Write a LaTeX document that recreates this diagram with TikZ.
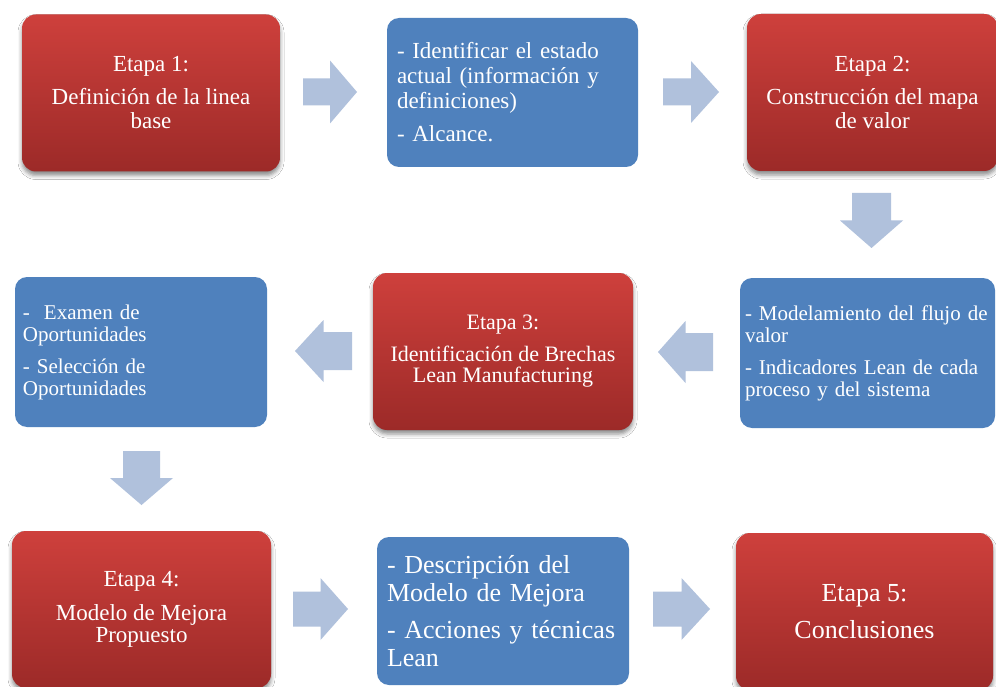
\documentclass[tikz,border=0pt]{standalone}
\usepackage{fontspec}
\setmainfont{Liberation Serif}
\newfontfamily\boxfont{Liberation Serif}
\usetikzlibrary{shadows.blur,calc}
\definecolor{redtop}{RGB}{206,64,60}
\definecolor{redbot}{RGB}{156,42,40}
\definecolor{boxblue}{RGB}{79,129,189}
\definecolor{arrowblue}{RGB}{176,193,220}
\tikzset{
  redbox/.style={rectangle, rounded corners=14pt, top color=redtop, bottom color=redbot,
    draw=none, text=white, align=center, inner sep=4pt,
    blur shadow={shadow xshift=0pt, shadow yshift=-4pt, shadow blur radius=4pt, shadow opacity=45}},
  bluebox/.style={rectangle, rounded corners=12pt, fill=boxblue, draw=none, text=white,
    align=left, inner ysep=4pt},
  blockarrow/.style={fill=arrowblue, draw=none},
}
\newcommand{\arrR}[4]{\fill[blockarrow, shift={(#1)}] (-#4,-#2) -- (0,-#2) -- (0,-#3) -- (#4,0) -- (0,#3) -- (0,#2) -- (-#4,#2) -- cycle;}
\newcommand{\arrL}[4]{\fill[blockarrow, shift={(#1)}] (#4,-#2) -- (0,-#2) -- (0,-#3) -- (-#4,0) -- (0,#3) -- (0,#2) -- (#4,#2) -- cycle;}
\newcommand{\arrD}[4]{\fill[blockarrow, shift={(#1)}] (-#2,-#4) -- (-#2,0) -- (-#3,0) -- (0,#4) -- (#3,0) -- (#2,0) -- (#2,-#4) -- cycle;}
\begin{document}
\begin{tikzpicture}[x=1pt,y=-1pt]
\useasboundingbox (0,0) rectangle (996,687);
\clip (0,0) rectangle (996,687);
\fill[white] (0,0) rectangle (996,687);

% Row 1
\node[redbox, minimum width=258pt, minimum height=157pt, font=\boxfont\fontsize{23}{24}\selectfont] (e1) at (151,93)
  {Etapa 1:\\[9pt]Definición de la linea\\base};
\node[bluebox, minimum height=149pt, inner xsep=10pt, text width=231pt, font=\boxfont\fontsize{23}{25}\selectfont] (b1) at (512.5,92.5)
  {- Identificar el estado\\actual (información y\\definiciones)\\[8pt]- Alcance.};
\node[redbox, minimum width=251pt, minimum height=157pt, font=\boxfont\fontsize{23}{24}\selectfont] (e2) at (872.5,92.5)
  {Etapa 2:\\[9pt]Construcción del mapa\\de valor};

% Row 2
\node[bluebox, minimum height=150pt, inner xsep=5pt, text width=245pt, font=\boxfont\fontsize{21}{22}\selectfont] (b2) at (867.5,353)
  {- Modelamiento del flujo de\\valor\\[10pt]- Indicadores Lean de cada\\proceso y del sistema};
\node[redbox, minimum width=260pt, minimum height=157pt, font=\boxfont\fontsize{22}{21}\selectfont] (e3) at (503,351.5)
  {Etapa 3:\\[11pt]Identificación de Brechas\\Lean Manufacturing};
\node[bluebox, minimum height=150pt, inner xsep=8pt, text width=236pt, font=\boxfont\fontsize{21}{22}\selectfont] (b3) at (141,352)
  {-\ \ Examen de\\Oportunidades\\[10pt]- Selección de\\Oportunidades};

% Row 3
\node[redbox, minimum width=259pt, minimum height=157pt, font=\boxfont\fontsize{23}{22}\selectfont] (e4) at (141.5,609.5)
  {Etapa 4:\\[12pt]Modelo de Mejora\\Propuesto};
\node[bluebox, minimum height=148pt, inner xsep=10pt, text width=232pt, font=\boxfont\fontsize{26}{28}\selectfont] (b4) at (503,611)
  {- Descripción del\\Modelo de Mejora\\[9pt]- Acciones y técnicas\\Lean};
\node[redbox, minimum width=257pt, minimum height=157pt, font=\boxfont\fontsize{26}{26}\selectfont] (e5) at (864.5,611.5)
  {Etapa 5:\\[11pt]Conclusiones};

% Block arrows between the boxes
\coordinate (m1) at (330,92);
\coordinate (m2) at (691,92);
\coordinate (m3) at (871.5,220.5);
\coordinate (m4) at (685.5,352);
\coordinate (m5) at (323.5,351);
\coordinate (m6) at (141.5,478);
\coordinate (m7) at (320.5,609);
\coordinate (m8) at (681.5,609);
\arrR{m1}{13.5}{31.5}{27}
\arrR{m2}{13.5}{31}{28}
\arrD{m3}{19.5}{31.5}{27.5}
\arrL{m4}{19}{31}{27.5}
\arrL{m5}{19}{31}{28.5}
\arrD{m6}{18.5}{31.5}{27}
\arrR{m7}{17.5}{31}{27.5}
\arrR{m8}{17.5}{31}{28.5}
\end{tikzpicture}
\end{document}
